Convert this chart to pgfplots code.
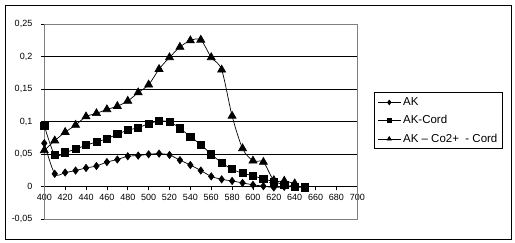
\documentclass[border=0pt]{standalone}
\usepackage{pgfplots}
\pgfplotsset{compat=1.18}
\usepackage{fontspec}
\setmainfont{Liberation Sans}
\definecolor{bordergray}{HTML}{808080}
\begin{document}
\begin{tikzpicture}[x=1pt,y=1pt]
\useasboundingbox (0,0) rectangle (515,243);
\begin{axis}[
  at={(44.3pt,23.7pt)}, anchor=south west,
  scale only axis, width=313pt, height=195pt,
  xmin=400, xmax=700, ymin=-0.05, ymax=0.25,
  axis x line=middle, axis y line=left,
  axis line style={-, black, line width=0.8pt},
  hide obscured x ticks=false,
  clip=false,
  xtick={400,420,...,700},
  ytick={-0.05,0,0.05,0.1,0.15,0.2,0.25},
  tick align=outside,
  major tick length=3.5pt,
  tick style={black, line width=0.7pt},
  /pgf/number format/.cd, use comma, fixed, precision=2, assume math mode=true,
  /pgfplots/.cd,
  xticklabel style={font=\fontsize{9}{10}\selectfont, yshift=-0.5pt},
  yticklabel style={font=\fontsize{9}{10}\selectfont, xshift=-5pt},
  every axis plot/.append style={black, line width=0.7pt, smooth},
  legend style={at={(1.0534,0.6513)}, anchor=north west, draw=black,
    line width=0.8pt, font=\fontsize{11.5}{12}\selectfont,
    inner xsep=3pt, inner ysep=3pt, row sep=4.5pt,
    cells={anchor=west}},
  legend image code/.code={\draw[mark repeat=2, mark phase=2, #1, mark size=2.3pt, line width=0.7pt]
    plot coordinates {(0pt,0pt) (11.5pt,0pt) (23pt,0pt)};},
]
\draw[bordergray, line width=0.8pt] (rel axis cs:0,0) rectangle (rel axis cs:1,1);
\draw[black, line width=0.7pt] (axis cs:400,0.05) -- (axis cs:700,0.05);
\draw[black, line width=0.7pt] (axis cs:400,0.1) -- (axis cs:700,0.1);
\draw[black, line width=0.7pt] (axis cs:400,0.15) -- (axis cs:700,0.15);
\draw[black, line width=0.7pt] (axis cs:400,0.2) -- (axis cs:700,0.2);
\addplot[mark=diamond*, mark size=3.6pt, mark options={solid, fill=black}] coordinates {
(400,0.067) (410,0.020) (420,0.022) (430,0.025) (440,0.029) (450,0.032)
(460,0.038) (470,0.042) (480,0.047) (490,0.048) (500,0.050) (510,0.051)
(520,0.049) (530,0.041) (540,0.0335) (550,0.025) (560,0.016) (570,0.0115)
(580,0.009) (590,0.006) (600,0.003) (610,0.001) (620,-0.001) (630,0.0) (640,0.0)
};
\addlegendentry{AK}
\addplot[mark=square*, mark size=3.6pt, mark options={solid, fill=black}] coordinates {
(400,0.094) (410,0.049) (420,0.053) (430,0.058) (440,0.064) (450,0.069)
(460,0.074) (470,0.081) (480,0.087) (490,0.091) (500,0.097) (510,0.101)
(520,0.100) (530,0.090) (540,0.077) (550,0.065) (560,0.050) (570,0.037)
(580,0.027) (590,0.021) (600,0.017) (610,0.012) (620,0.008) (630,0.003)
(640,0.0) (650,-0.001)
};
\addlegendentry{AK-Cord}
\addplot[mark=triangle*, mark size=4.6pt, mark options={solid, fill=black}] coordinates {
(400,0.056) (410,0.071) (420,0.084) (430,0.095) (440,0.108) (450,0.113)
(460,0.119) (470,0.124) (480,0.132) (490,0.145) (500,0.157) (510,0.181)
(520,0.199) (530,0.215) (540,0.225) (550,0.226) (560,0.199) (570,0.180)
(580,0.109) (590,0.059) (600,0.040) (610,0.038) (620,0.010) (630,0.009)
(640,0.005)
};
\addlegendentry{AK -- Co2+\ \ - Cord}
\end{axis}
\draw[black, line width=0.8pt] (5.7,4) rectangle (511,238);
\end{tikzpicture}
\end{document}
